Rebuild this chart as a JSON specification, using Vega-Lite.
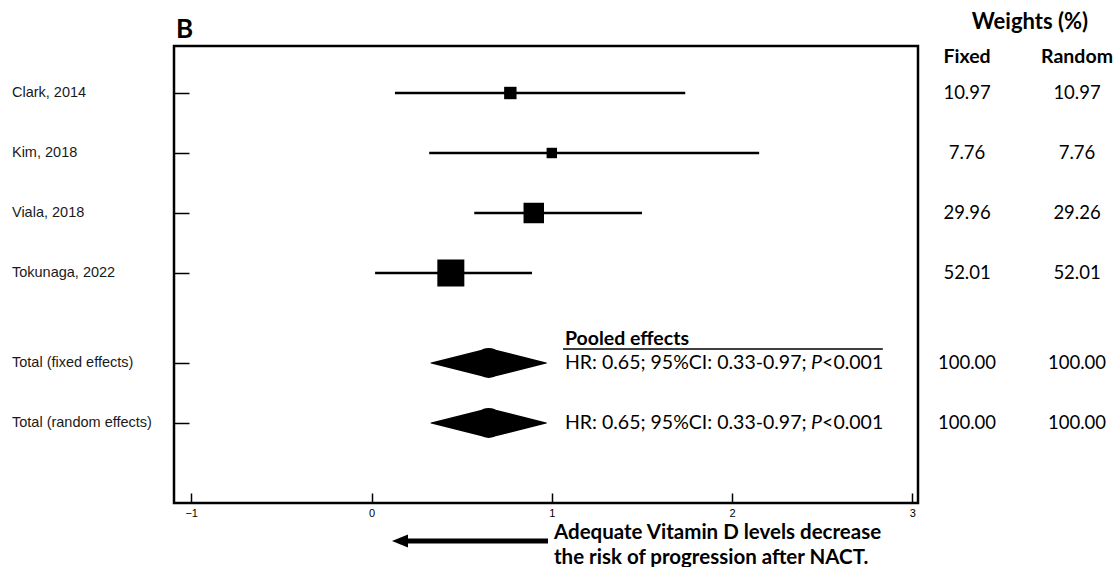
{
  "$schema": "https://vega.github.io/schema/vega-lite/v6.json",
  "autosize": {"type": "none"},
  "padding": {"left": 174, "top": 46, "right": 197, "bottom": 64},
  "width": 744,
  "height": 457,
  "background": "white",
  "config": {
    "view": {"stroke": "black", "strokeWidth": 2.5},
    "axis": {"grid": false}
  },
  "datasets": {
    "studies": [
      {"study": "Clark, 2014", "row": 1, "hr": 0.77, "lo": 0.13, "hi": 1.74, "wf": 10.97, "wr": 10.97},
      {"study": "Kim, 2018", "row": 2, "hr": 1.0, "lo": 0.32, "hi": 2.15, "wf": 7.76, "wr": 7.76},
      {"study": "Viala, 2018", "row": 3, "hr": 0.9, "lo": 0.57, "hi": 1.5, "wf": 29.96, "wr": 29.26},
      {"study": "Tokunaga, 2022", "row": 4, "hr": 0.44, "lo": 0.02, "hi": 0.89, "wf": 52.01, "wr": 52.01}
    ],
    "totals": [
      {"study": "Total (fixed effects)", "row": 5.5, "hr": 0.65, "lo": 0.33, "hi": 0.97, "wf": 100, "wr": 100},
      {"study": "Total (random effects)", "row": 6.5, "hr": 0.65, "lo": 0.33, "hi": 0.97, "wf": 100, "wr": 100}
    ],
    "one": [{}]
  },
  "layer": [
    {
      "data": {"name": "studies"},
      "mark": {"type": "rule", "color": "black", "strokeWidth": 2.5},
      "encoding": {
        "x": {"field": "lo", "type": "quantitative",
          "scale": {"domain": [-1.0954, 3.031], "nice": false, "zero": false},
          "axis": {"values": [-1, 0, 1, 2, 3], "format": "d", "title": null, "domain": false, "tickSize": -10, "tickWidth": 1.5, "tickColor": "black",
            "labelFont": "Liberation Sans", "labelFontSize": 11, "labelColor": "black", "labelPadding": 14}},
        "x2": {"field": "hi"},
        "y": {"field": "row", "type": "quantitative",
          "scale": {"domain": [0.2167, 7.8333], "reverse": true, "nice": false, "zero": false},
          "axis": {"values": [1, 2, 3, 4, 5.5, 6.5], "title": null, "domain": false, "labels": false, "tickSize": -15, "tickWidth": 1.5, "tickColor": "black"}}
      }
    },
    {
      "data": {"name": "studies"},
      "mark": {"type": "point", "shape": "square", "filled": true, "color": "black", "opacity": 1},
      "encoding": {
        "x": {"field": "hr", "type": "quantitative"},
        "y": {"field": "row", "type": "quantitative"},
        "size": {"field": "wf", "type": "quantitative", "scale": {"domain": [0, 52.01], "range": [0, 729]}, "legend": null}
      }
    },
    {
      "data": {"name": "totals"},
      "transform": [{"fold": ["lo", "hr", "hi"], "as": ["key", "value"]}],
      "mark": {"type": "trail", "color": "black"},
      "encoding": {
        "x": {"field": "value", "type": "quantitative"},
        "y": {"field": "row", "type": "quantitative"},
        "detail": {"field": "study"},
        "order": {"field": "value", "type": "quantitative"},
        "size": {"field": "key", "type": "nominal", "scale": {"type": "ordinal", "domain": ["lo", "hr", "hi"], "range": [0, 30, 0]}, "legend": null}
      }
    },
    {
      "data": {"name": "studies"},
      "mark": {"type": "text", "align": "left", "baseline": "middle", "font": "Liberation Sans", "fontSize": 14.5, "color": "#1a1a1a"},
      "encoding": {"x": {"datum": -1.994}, "y": {"field": "row", "type": "quantitative"}, "text": {"field": "study"}}
    },
    {
      "data": {"name": "totals"},
      "mark": {"type": "text", "align": "left", "baseline": "middle", "font": "Liberation Sans", "fontSize": 14.5, "color": "#1a1a1a"},
      "encoding": {"x": {"datum": -1.994}, "y": {"field": "row", "type": "quantitative"}, "text": {"field": "study"}}
    },
    {
      "data": {"name": "studies"},
      "mark": {"type": "text", "align": "center", "baseline": "middle", "font": "Lato", "fontSize": 18.5, "color": "black"},
      "encoding": {"x": {"datum": 3.303}, "y": {"field": "row", "type": "quantitative"}, "text": {"field": "wf", "format": ".2f"}}
    },
    {
      "data": {"name": "studies"},
      "mark": {"type": "text", "align": "center", "baseline": "middle", "font": "Lato", "fontSize": 18.5, "color": "black"},
      "encoding": {"x": {"datum": 3.913}, "y": {"field": "row", "type": "quantitative"}, "text": {"field": "wr", "format": ".2f"}}
    },
    {
      "data": {"name": "totals"},
      "mark": {"type": "text", "align": "center", "baseline": "middle", "font": "Lato", "fontSize": 18.5, "color": "black"},
      "encoding": {"x": {"datum": 3.303}, "y": {"field": "row", "type": "quantitative"}, "text": {"field": "wf", "format": ".2f"}}
    },
    {
      "data": {"name": "totals"},
      "mark": {"type": "text", "align": "center", "baseline": "middle", "font": "Lato", "fontSize": 18.5, "color": "black"},
      "encoding": {"x": {"datum": 3.913}, "y": {"field": "row", "type": "quantitative"}, "text": {"field": "wr", "format": ".2f"}}
    },
    {
      "data": {"name": "totals"},
      "mark": {"type": "text", "align": "left", "baseline": "middle", "font": "Lato", "fontSize": 19.5, "color": "black", "text": "HR: 0.65; 95%CI: 0.33-0.97;"},
      "encoding": {"x": {"datum": 1.073}, "y": {"field": "row", "type": "quantitative"}}
    },
    {
      "data": {"name": "totals"},
      "mark": {"type": "text", "align": "left", "baseline": "middle", "font": "Lato", "fontSize": 19.5, "fontStyle": "italic", "color": "black", "text": "P"},
      "encoding": {"x": {"datum": 2.438}, "y": {"field": "row", "type": "quantitative"}}
    },
    {
      "data": {"name": "totals"},
      "mark": {"type": "text", "align": "left", "baseline": "middle", "font": "Lato", "fontSize": 19.5, "color": "black", "text": "<0.001"},
      "encoding": {"x": {"datum": 2.499}, "y": {"field": "row", "type": "quantitative"}}
    },
    {
      "data": {"name": "one"},
      "mark": {"type": "text", "align": "left", "baseline": "middle", "font": "Lato", "fontSize": 19.5, "fontWeight": "bold", "color": "black", "text": "Pooled effects"},
      "encoding": {"x": {"datum": 1.073}, "y": {"datum": 5.1}}
    },
    {
      "data": {"name": "one"},
      "mark": {"type": "rule", "color": "black", "strokeWidth": 1.5},
      "encoding": {"x": {"datum": 1.062}, "x2": {"datum": 2.836}, "y": {"datum": 5.267}}
    },
    {
      "data": {"name": "one"},
      "mark": {"type": "text", "align": "left", "baseline": "middle", "font": "Lato", "fontSize": 26, "fontWeight": "bold", "color": "black", "text": "B"},
      "encoding": {"x": {"datum": -1.084}, "y": {"datum": -0.05}}
    },
    {
      "data": {"name": "one"},
      "mark": {"type": "text", "align": "center", "baseline": "middle", "font": "Lato", "fontSize": 22, "fontWeight": "bold", "color": "black", "text": "Weights (%)"},
      "encoding": {"x": {"datum": 3.652}, "y": {"datum": -0.183}}
    },
    {
      "data": {"name": "one"},
      "mark": {"type": "text", "align": "center", "baseline": "middle", "font": "Lato", "fontSize": 19.5, "fontWeight": "bold", "color": "black", "text": "Fixed"},
      "encoding": {"x": {"datum": 3.303}, "y": {"datum": 0.4}}
    },
    {
      "data": {"name": "one"},
      "mark": {"type": "text", "align": "center", "baseline": "middle", "font": "Lato", "fontSize": 19.5, "fontWeight": "bold", "color": "black", "text": "Random"},
      "encoding": {"x": {"datum": 3.913}, "y": {"datum": 0.4}}
    },
    {
      "data": {"name": "one"},
      "mark": {"type": "rule", "color": "black", "strokeWidth": 5},
      "encoding": {"x": {"datum": 0.158}, "x2": {"datum": 0.979}, "y": {"datum": 8.467}}
    },
    {
      "data": {"name": "one"},
      "mark": {"type": "point", "filled": true, "color": "black", "opacity": 1, "shape": "M -1 0 L 1 -0.8 L 1 0.8 Z", "size": 256},
      "encoding": {"x": {"datum": 0.158}, "y": {"datum": 8.467}}
    },
    {
      "data": {"name": "one"},
      "mark": {"type": "text", "align": "left", "baseline": "middle", "font": "Lato", "fontSize": 20.5, "fontWeight": "bold", "color": "black", "text": "Adequate Vitamin D levels decrease"},
      "encoding": {"x": {"datum": 1.012}, "y": {"datum": 8.34}}
    },
    {
      "data": {"name": "one"},
      "mark": {"type": "text", "align": "left", "baseline": "middle", "font": "Lato", "fontSize": 20.5, "fontWeight": "bold", "color": "black", "text": "the risk of progression after NACT."},
      "encoding": {"x": {"datum": 1.012}, "y": {"datum": 8.745}}
    }
  ]
}
